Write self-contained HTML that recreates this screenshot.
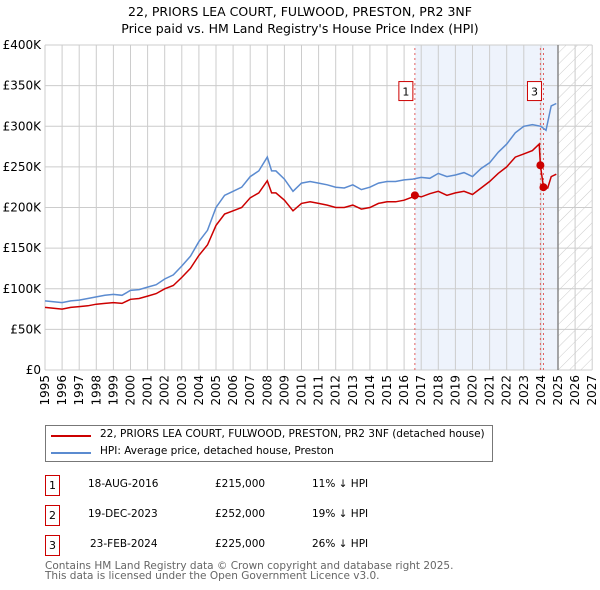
<!DOCTYPE html>
<html><head><meta charset="utf-8"><style>
body{margin:0;background:#fff;font-family:"DejaVu Sans","Liberation Sans",sans-serif;}
#wrap{position:relative;width:600px;height:590px;overflow:hidden;background:#fff}
.t{position:absolute;font-size:10.5px;color:#000;white-space:nowrap}
.box{position:absolute;width:13px;height:19px;border:1px solid #c00;font-size:11px;text-align:center;line-height:19px;background:#fff}
</style></head><body>
<div id="wrap">
<div class="t" style="left:0;width:600px;text-align:center;top:3px;font-size:12.5px;line-height:17px">22, PRIORS LEA COURT, FULWOOD, PRESTON, PR2 3NF<br>Price paid vs. HM Land Registry's House Price Index (HPI)</div>
<svg id="chart" width="600" height="415" style="position:absolute;left:0;top:0"></svg>
<div style="position:absolute;left:45px;top:425px;width:446px;height:35px;border:1px solid #777">
  <div style="position:absolute;left:5px;top:4px;width:40px;height:2px;background:#c00;margin-top:5px"></div>
  <div class="t" style="left:54px;top:2px">22, PRIORS LEA COURT, FULWOOD, PRESTON, PR2 3NF (detached house)</div>
  <div style="position:absolute;left:5px;top:21px;width:40px;height:2px;background:#5b8bd0;margin-top:5px"></div>
  <div class="t" style="left:54px;top:19px">HPI: Average price, detached house, Preston</div>
</div>
<div>
 <div class="box" style="left:45px;top:475px">1</div>
 <div class="t" style="left:88px;top:478px">18-AUG-2016</div>
 <div class="t" style="left:215px;top:478px">£215,000</div>
 <div class="t" style="left:312px;top:478px">11% ↓ HPI</div>
 <div class="box" style="left:45px;top:505px">2</div>
 <div class="t" style="left:88px;top:508px">19-DEC-2023</div>
 <div class="t" style="left:215px;top:508px">£252,000</div>
 <div class="t" style="left:312px;top:508px">19% ↓ HPI</div>
 <div class="box" style="left:45px;top:535px">3</div>
 <div class="t" style="left:90px;top:538px">23-FEB-2024</div>
 <div class="t" style="left:215px;top:538px">£225,000</div>
 <div class="t" style="left:312px;top:538px">26% ↓ HPI</div>
</div>
<div class="t" style="left:45px;top:561px;color:#666;font-size:10.5px;line-height:10px">Contains HM Land Registry data © Crown copyright and database right 2025.<br>This data is licensed under the Open Government Licence v3.0.</div>
</div>
<script>
const yTicks=[0,50,100,150,200,250,300,350,400];
const yTickLabels=["£0","£50K","£100K","£150K","£200K","£250K","£300K","£350K","£400K"];
const xYears=[1995,1996,1997,1998,1999,2000,2001,2002,2003,2004,2005,2006,2007,2008,2009,2010,2011,2012,2013,2014,2015,2016,2017,2018,2019,2020,2021,2022,2023,2024,2025,2026,2027];
const hpiT=[1995,1995.5,1996,1996.5,1997,1997.5,1998,1998.5,1999,1999.5,2000,2000.5,2001,2001.5,2002,2002.5,2003,2003.5,2004,2004.5,2005,2005.5,2006,2006.5,2007,2007.5,2008,2008.25,2008.5,2009,2009.5,2010,2010.5,2011,2011.5,2012,2012.5,2013,2013.5,2014,2014.5,2015,2015.5,2016,2016.5,2017,2017.5,2018,2018.5,2019,2019.5,2020,2020.5,2021,2021.5,2022,2022.5,2023,2023.5,2024,2024.3,2024.6,2024.9];
const hpiV=[85,84,83,85,86,88,90,92,93,92,98,99,102,105,112,117,128,140,158,172,200,215,220,225,238,245,262,245,245,235,220,230,232,230,228,225,224,228,222,225,230,232,232,234,235,237,236,242,238,240,243,238,248,255,268,278,292,300,302,300,295,325,328];
const propT=[1995,1995.5,1996,1996.5,1997,1997.5,1998,1998.5,1999,1999.5,2000,2000.5,2001,2001.5,2002,2002.5,2003,2003.5,2004,2004.5,2005,2005.5,2006,2006.5,2007,2007.5,2008,2008.25,2008.5,2009,2009.5,2010,2010.5,2011,2011.5,2012,2012.5,2013,2013.5,2014,2014.5,2015,2015.5,2016,2016.5,2016.63,2017,2017.5,2018,2018.5,2019,2019.5,2020,2020.5,2021,2021.5,2022,2022.5,2023,2023.5,2023.9,2023.97,2024.15,2024.4,2024.6,2024.9];
const propV=[77,76,75,77,78,79,81,82,83,82,87,88,91,94,100,104,114,125,141,154,178,192,196,200,212,218,233,218,218,209,196,205,207,205,203,200,200,203,198,200,205,207,207,209,213,215,213,217,220,215,218,220,216,224,232,242,250,262,266,270,278,252,225,224,238,241];
const saleT=[2016.63,2023.97,2024.15];
const saleV=[215,252,225];
const saleLabels=["1","2","3"];

const X=t=>45+(t-1995)*17.1, Y=v=>370-v*0.8125;
const svg=document.getElementById('chart'),NS='http://www.w3.org/2000/svg';
function mk(tag,attrs,name){const e=document.createElementNS(NS,tag);for(const k in attrs)e.setAttribute(k,attrs[k]);


svg.appendChild(e);return e;}
svg.innerHTML='<defs><pattern id="hatch" width="8" height="8" patternUnits="userSpaceOnUse" patternTransform="rotate(45)"><line x1="0" y1="0" x2="0" y2="8" stroke="#ccc" stroke-width="1"/></pattern></defs>';
mk('rect',{x:X(saleT[0]),y:Y(400),width:X(2025)-X(saleT[0]),height:Y(0)-Y(400),fill:'#eef3fc'},'shaded-ownership-period');
mk('rect',{x:X(2025),y:Y(400),width:X(2027)-X(2025),height:Y(0)-Y(400),fill:'url(#hatch)'},'future-hatch');
xYears.forEach(y=>{mk('line',{x1:X(y),x2:X(y),y1:Y(0),y2:Y(400),stroke:'#ccc'},'x-grid');
 const t=mk('text',{x:0,y:0,transform:`translate(${X(y)+4},${Y(0)+5}) rotate(-90)`,'text-anchor':'end','font-size':12,'font-family':'DejaVu Sans, sans-serif'},'x-tick-label');t.textContent=y;});
yTicks.forEach((v,i)=>{mk('line',{x1:X(1995),x2:X(2027),y1:Y(v),y2:Y(v),stroke:'#ccc'},'y-grid');
 const t=mk('text',{x:41,y:Y(v)+4,'text-anchor':'end','font-size':12,'font-family':'DejaVu Sans, sans-serif'},'y-tick-label');t.textContent=yTickLabels[i];});
mk('line',{x1:X(2025),x2:X(2025),y1:Y(0),y2:Y(400),stroke:'#888','stroke-width':1.5},'today-line');
saleT.forEach(t=>mk('line',{x1:X(t),x2:X(t),y1:Y(0),y2:Y(400),stroke:'#e06060','stroke-dasharray':'2,3'},'sale-vline'));
const pts=(T,V)=>T.map((t,i)=>X(t).toFixed(1)+','+Y(V[i]).toFixed(1)).join(' ');
mk('polyline',{points:pts(hpiT,hpiV),fill:'none',stroke:'#5b8bd0','stroke-width':1.5},'hpi-line');
mk('polyline',{points:pts(propT,propV),fill:'none',stroke:'#c00','stroke-width':1.5},'property-line');
saleT.forEach((t,i)=>mk('circle',{cx:X(t),cy:Y(saleV[i]),r:4,fill:'#c00'},'sale-point'));
[[0,-4],[2,-4]].forEach(([i,dx])=>{const bx=X(saleT[i])+dx-12;
 mk('rect',{x:bx,y:Y(355),width:14,height:19,fill:'#fff',stroke:'#c00'},'sale-label-box');
 const t=mk('text',{x:bx+7,y:Y(355)+14,'text-anchor':'middle','font-size':11,'font-family':'DejaVu Sans, sans-serif'},'sale-label');t.textContent=saleLabels[i];});
</script>
</body></html>
